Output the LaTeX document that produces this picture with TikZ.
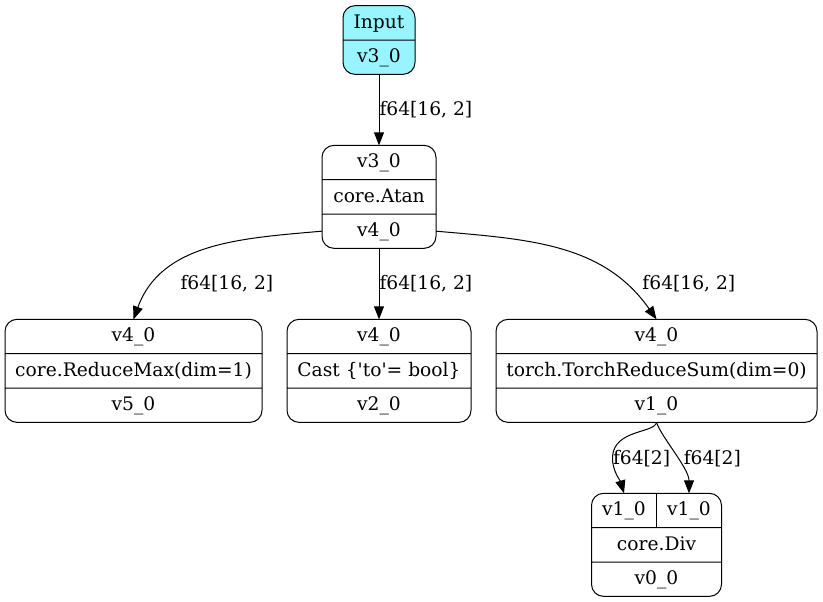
\documentclass[tikz,border=0pt]{standalone}
\usepackage{fontspec}
\setmainfont{DejaVu Serif}
\usepackage{tikz}
\usetikzlibrary{shapes.multipart,arrows.meta,positioning,calc}
\definecolor{INPcyan}{RGB}{152,245,255}
\newcommand{\cell}[1]{\vrule height 16.5pt depth 8.5pt width 0pt #1}
\tikzstyle{rec}  = [rectangle split, rectangle split parts=3, draw,
                    rounded corners=9pt, line width=0.75pt,
                    inner xsep=0pt, inner ysep=0pt, outer sep=0pt,
                    font=\fontsize{14pt}{17pt}\selectfont]
\tikzstyle{Rinp} = [rec, rectangle split parts=2, fill=INPcyan,
                    minimum width=54pt]
\tikzstyle{lbl}  = [font=\fontsize{14pt}{17pt}\selectfont, inner sep=0pt]

\begin{document}
\begin{tikzpicture}[x=0.75pt, y=-0.75pt, node distance=53.25pt and 18.75pt,
    >={Triangle[length=9.75pt,width=7.5pt]}, line width=0.75pt]
  \useasboundingbox (0,0) rectangle (823,601);
  \node[Rinp] (inp) at (379,40) {\cell{Input}\nodepart{two}\cell{v3\_0}};
  \node[rec, minimum width=85.5pt, below=of inp] (atan)
    {\cell{v3\_0}\nodepart{two}\cell{core.Atan}\nodepart{three}\cell{v4\_0}};
  \node[rec, minimum width=138pt, below=of atan] (cast)
    {\cell{v4\_0}\nodepart{two}\cell{Cast \{\textquotesingle to\textquotesingle= bool\}}\nodepart{three}\cell{v2\_0}};
  \node[rec, minimum width=192.75pt, left=of cast] (rmax)
    {\cell{v4\_0}\nodepart{two}\cell{core.ReduceMax(dim=1)}\nodepart{three}\cell{v5\_0}};
  \node[rec, minimum width=240.75pt, right=of cast] (rsum)
    {\cell{v4\_0}\nodepart{two}\cell{torch.TorchReduceSum(dim=0)}\nodepart{three}\cell{v1\_0}};
  \node[rec, minimum width=97.5pt, below=of rsum] (div)
    {\cell{\makebox[48.75pt]{v1\_0}\makebox[48.75pt]{v1\_0}}\nodepart{two}\cell{core.Div}\nodepart{three}\cell{v0\_0}};
  \draw (div.north) -- (div.text split);

  % ports
  \coordinate (aw) at ($(atan.two split west)!0.5!(atan.south west)$);
  \coordinate (ae) at ($(atan.two split east)!0.5!(atan.south east)$);
  \coordinate (dl) at ($(div.north west)!0.5!(div.north)$);
  \coordinate (dr) at ($(div.north east)!0.5!(div.north)$);

  \draw[->] (inp) -- node[lbl, right]{f64[16, 2]} (atan);
  \draw[->] (atan) -- node[lbl, right]{f64[16, 2]} (cast);
  \draw[->] (aw) to[out=185, in=70]
    node[lbl, pos=1, anchor=west, xshift=34.9pt, yshift=27pt]{f64[16, 2]} (rmax.north);
  \draw[->] (ae) to[out=-5, in=125]
    node[lbl, pos=1, anchor=west, xshift=-10.9pt, yshift=27pt]{f64[16, 2]} (rsum.north);
  \draw[->] (rsum.south) .. controls +(-2,11) and +(2,-27) .. ++(-44,34)
    .. controls +(-1,13) and +(-3.5,-12) .. 
    node[lbl, pos=1, anchor=west, xshift=-8.6pt, yshift=26.25pt]{f64[2]} (dl);
  \draw[->] (rsum.south) .. controls +(5,15) and +(0,-25) ..
    node[lbl, pos=1, anchor=west, xshift=-4.3pt, yshift=26.25pt]{f64[2]} (dr);
\end{tikzpicture}
\end{document}
